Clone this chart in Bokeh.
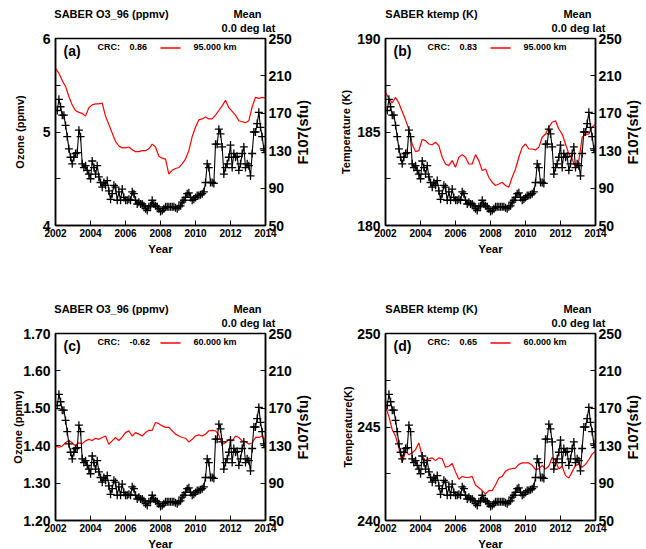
import numpy as np
from bokeh.plotting import figure
from bokeh.models import Range1d, LinearAxis, FixedTicker, Label, PrintfTickFormatter, BoxAnnotation
from bokeh.layouts import column, row
from bokeh.embed import file_html
from bokeh.resources import INLINE

FONT = "Liberation Sans"

# ---------------- data ----------------
year_ticks = [2002, 2004, 2006, 2008, 2010, 2012, 2014]
f107_ticks = [50, 90, 130, 170, 210, 250]

# F10.7 solar flux (sfu), roughly monthly from early 2002 to 2014
f107 = [173, 185, 177, 168, 168, 157, 145, 132, 123, 116,
        123, 127, 128, 152, 145, 116, 112, 114, 109, 105,
        100, 119, 112, 105, 114, 102, 96, 91, 96, 93,
        98, 87, 78, 84, 93, 91, 77, 86, 77, 89,
        80, 77, 77, 78, 77, 86, 84, 77, 73, 75,
        73, 73, 71, 68, 66, 70, 71, 77, 73, 71,
        70, 68, 65, 66, 68, 70, 70, 70, 70, 70,
        70, 69, 68, 70, 71, 75, 77, 80, 84, 85,
        80, 77, 78, 80, 82, 82, 83, 84, 86, 96,
        116, 112, 96, 96, 95, 137, 137, 153, 148, 134,
        105, 112, 116, 123, 136, 112, 127, 123, 124, 109,
        116, 127, 134, 112, 116, 114, 103, 127, 150, 150,
        159, 171, 155, 145, 132, 128]
f107_start, f107_end = 2002.1, 2014.0

# SABER ozone at 95 km (ppmv)
o3_95km = [5.68, 5.63, 5.55, 5.49, 5.38, 5.29, 5.23, 5.21, 5.20, 5.17,
           5.26, 5.29, 5.30, 5.30, 5.31, 5.17, 5.08, 4.99, 4.90, 4.85,
           4.83, 4.83, 4.84, 4.81, 4.79, 4.79, 4.80, 4.80, 4.82, 4.87,
           4.84, 4.74, 4.72, 4.71, 4.55, 4.59, 4.61, 4.62, 4.66, 4.71,
           4.80, 4.95, 5.05, 5.13, 5.14, 5.16, 5.14, 5.14, 5.18, 5.23,
           5.28, 5.34, 5.26, 5.22, 5.18, 5.12, 5.11, 5.10, 5.12, 5.27,
           5.37, 5.36, 5.37, 5.365]

# SABER kinetic temperature at 95 km (K)
ktemp_95km = [187.12, 186.8, 186.55, 186.85, 186.55, 186.1, 185.65, 185.15, 184.36, 183.95,
              184.0, 184.6, 184.54, 184.36, 184.32, 184.45, 184.27, 183.65, 183.29, 183.2,
              183.47, 183.11, 183.65, 183.79, 183.65, 183.29, 183.29, 183.79, 183.47, 182.94,
              183.02, 182.58, 182.31, 182.14, 182.22, 182.31, 182.14, 182.05, 182.58, 183.02,
              183.65, 184.18, 184.36, 184.09, 184.09, 184.04, 184.18, 184.72, 184.89, 185.25,
              185.52, 185.6, 185.16, 184.89, 184.36, 183.83, 183.56, 183.11, 183.47, 184.72,
              184.89, 184.89, 185.25, 185.43]

# SABER ozone at 60 km (ppmv)
o3_60km = [1.399, 1.396, 1.399, 1.408, 1.414, 1.408, 1.399, 1.408, 1.405, 1.413,
           1.417, 1.414, 1.420, 1.417, 1.422, 1.426, 1.404, 1.413, 1.422, 1.414,
           1.423, 1.435, 1.440, 1.426, 1.435, 1.431, 1.426, 1.435, 1.441, 1.441,
           1.462, 1.459, 1.453, 1.449, 1.449, 1.440, 1.431, 1.426, 1.422, 1.420,
           1.410, 1.417, 1.426, 1.429, 1.426, 1.431, 1.440, 1.441, 1.440, 1.429,
           1.404, 1.408, 1.417, 1.413, 1.426, 1.422, 1.413, 1.411, 1.404, 1.408,
           1.422, 1.422, 1.426, 1.414]

# SABER kinetic temperature at 60 km (K)
ktemp_60km = [246.1, 245.58, 244.87, 244.51, 243.9, 243.08, 243.7, 243.52, 243.61, 243.79,
              244.15, 243.45, 243.2, 243.3, 243.35, 243.2, 243.35, 243.3, 242.85, 242.9,
              243.05, 242.6, 242.2, 242.36, 242.3, 242.3, 242.36, 241.9, 241.75, 241.6,
              241.42, 241.6, 241.6, 241.9, 242.27, 242.36, 242.63, 242.74, 242.77, 242.8,
              243.0, 243.08, 243.08, 243.08, 242.95, 242.72, 242.77, 242.95, 242.75, 242.9,
              243.37, 243.2, 242.75, 242.9, 242.4, 242.27, 242.6, 242.95, 243.0, 242.85,
              243.0, 243.25, 243.55, 243.7]

panels = [
    dict(tag="(a)", title="SABER O3_96 (ppmv)", ylabel="Ozone (ppmv)", crc="0.86", alt="95.000 km",
         values=o3_95km, yr=(4, 6), ticks=[4, 5, 6], minor=[4.5, 5.5], fmt="%d",
         title_c=56, ylab_so=14),
    dict(tag="(b)", title="SABER ktemp (K)", ylabel="Temperature (K)", crc="0.83", alt="95.000 km",
         values=ktemp_95km, yr=(180, 190), ticks=[180, 185, 190], minor=[182.5, 187.5], fmt="%d",
         title_c=46, ylab_so=2),
    dict(tag="(c)", title="SABER O3_96 (ppmv)", ylabel="Ozone (ppmv)", crc="-0.62", alt="60.000 km",
         values=o3_60km, yr=(1.2, 1.7), ticks=[1.2, 1.3, 1.4, 1.5, 1.6, 1.7], minor=[], fmt="%.2f",
         title_c=56, ylab_so=-4),
    dict(tag="(d)", title="SABER ktemp (K)", ylabel="Temperature(K)", crc="0.65", alt="60.000 km",
         values=ktemp_60km, yr=(240, 250), ticks=[240, 245, 250], minor=[242.5, 247.5], fmt="%d",
         title_c=46, ylab_so=0),
]

FW, FH = 210, 187


def text_axis(p, side, ticks, labels, standoff, size, orientation="horizontal", **kw):
    ax = LinearAxis(ticker=FixedTicker(ticks=ticks, minor_ticks=[]),
                    major_label_overrides=dict(zip(ticks, labels)), **kw)
    ax.axis_line_color = None
    ax.major_tick_line_color = None
    ax.minor_tick_line_color = None
    ax.major_tick_in = 0
    ax.major_tick_out = 0
    ax.minor_tick_in = 0
    ax.minor_tick_out = 0
    ax.major_label_standoff = standoff
    ax.major_label_text_font = FONT
    ax.major_label_text_font_style = "bold"
    ax.major_label_text_font_size = f"{size}px"
    ax.major_label_text_color = "black"
    ax.major_label_orientation = orientation
    p.add_layout(ax, side)
    return ax


def make_panel(cfg, L, T, W, H):
    p = figure(frame_width=FW, frame_height=FH,
               min_border_left=L, min_border_right=W - L - FW,
               min_border_top=T, min_border_bottom=H - T - FH,
               x_range=Range1d(2002, 2014), y_range=Range1d(*cfg["yr"]),
               output_backend="svg", toolbar_location=None, tools="",
               title_location=None)
    p.extra_y_ranges = {"f107": Range1d(50, 250), "py": Range1d(0, FH)}
    p.extra_x_ranges = {"px": Range1d(0, FW)}
    p.grid.visible = False
    p.outline_line_color = "black"
    p.outline_line_width = 1.5
    p.background_fill_color = "white"
    p.border_fill_color = "white"

    right = LinearAxis(y_range_name="f107")
    p.add_layout(right, "right")

    xa = p.xaxis[0]
    ya = p.yaxis[0]
    xa.ticker = FixedTicker(ticks=year_ticks)
    xa.formatter = PrintfTickFormatter(format="%d")
    ya.ticker = FixedTicker(ticks=cfg["ticks"], minor_ticks=cfg["minor"])
    ya.formatter = PrintfTickFormatter(format=cfg["fmt"])
    right.ticker = FixedTicker(ticks=f107_ticks)
    right.formatter = PrintfTickFormatter(format="%d")

    for ax in (xa, ya, right):
        ax.major_tick_in = 5
        ax.major_tick_out = 0
        ax.minor_tick_in = 0
        ax.minor_tick_out = 0
        ax.axis_line_width = 1.5
        ax.axis_line_color = "black"
        ax.major_tick_line_color = "black"
        ax.major_label_text_font = FONT
        ax.major_label_text_font_style = "bold"
        ax.major_label_text_color = "black"
        ax.axis_label_text_font = FONT
        ax.axis_label_text_font_style = "bold"
        ax.axis_label_text_color = "black"
    ya.minor_tick_in = 5
    xa.major_label_text_font_size = "10px"
    xa.major_label_standoff = 3
    xa.axis_label = "Year"
    xa.axis_label_text_font_size = "11.5px"
    xa.axis_label_standoff = 3
    ya.major_label_text_font_size = "14px"
    ya.major_label_standoff = 5
    ya.axis_label = cfg["ylabel"]
    ya.axis_label_text_font_size = "11px"
    ya.axis_label_standoff = cfg["ylab_so"]
    right.major_label_text_font_size = "14px"
    right.major_label_standoff = 3

    # F107(sfu) label, reading bottom to top, right of the F10.7 scale
    text_axis(p, "right", [61], ["F107(sfu)"], 8, 14.5, np.pi / 2, y_range_name="py")
    # header lines above the frame
    text_axis(p, "above", [FW - 17], ["0.0 deg lat"], 5, 11, x_range_name="px")
    text_axis(p, "above", [cfg["title_c"], FW - 18], [cfg["title"], "Mean"], -1, 11,
              x_range_name="px")

    vals = cfg["values"]
    yrs = np.linspace(2002, 2014, len(vals))
    p.line(yrs, vals, color="#ff0000", line_width=1.2)

    fy = np.linspace(f107_start, f107_end, len(f107))
    p.line(fy, f107, color="black", line_width=1.1, y_range_name="f107")
    p.scatter(fy, f107, marker="cross", size=8, line_color="black", line_width=1.3,
              y_range_name="f107")

    def txt(cx, cy, text, size, align="left"):
        p.add_layout(Label(x=cx - L, y=T + FH - cy, x_units="screen", y_units="screen",
                           text=text, text_font=FONT, text_font_style="bold",
                           text_font_size=f"{size}px", text_align=align,
                           text_baseline="middle", text_color="black"))

    txt(L + 8, T + 12, cfg["tag"], 14)
    txt(L + 42, T + 8.5, "CRC:", 9)
    txt(L + 74, T + 8.5, cfg["crc"], 9)
    txt(L + 138, T + 8.5, cfg["alt"], 9)

    p.add_layout(BoxAnnotation(left=105, right=125, bottom=FH - 9.5 - 0.7, top=FH - 9.5 + 0.7,
                               left_units="screen", right_units="screen",
                               bottom_units="screen", top_units="screen",
                               fill_color="#ff0000", fill_alpha=1.0, line_color=None))
    return p


pa = make_panel(panels[0], 55, 38, 323, 270)
pb = make_panel(panels[1], 62, 38, 323, 270)
pc = make_panel(panels[2], 55, 63, 323, 279)
pd = make_panel(panels[3], 62, 63, 323, 279)

layout = column(row(pa, pb), row(pc, pd))
open("out.html", "w").write(file_html(layout, INLINE))
